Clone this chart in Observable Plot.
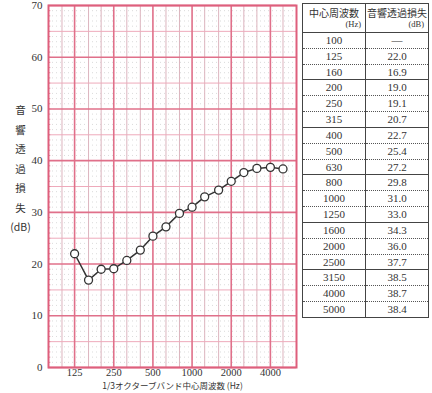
<!DOCTYPE html>
<html><head><meta charset="utf-8">
<script src="https://cdn.jsdelivr.net/npm/d3@7"></script>
<script src="https://cdn.jsdelivr.net/npm/@observablehq/plot@0.6"></script>
<style>
html,body{margin:0;padding:0;background:#fff;}
body{width:432px;height:393px;overflow:hidden;position:relative;}
#chart{position:absolute;left:0;top:0;}
#tbl{position:absolute;left:302px;top:3px;width:127px;height:315px;border-collapse:collapse;border:1.2px solid #444;table-layout:fixed;color:#333;}
#tbl td,#tbl th{padding:0;text-align:center;font-family:"Liberation Serif",serif;font-size:11px;font-weight:normal;line-height:1;}
#tbl th{height:28px;border-bottom:1.2px solid #444;font-family:"Noto Sans CJK JP",sans-serif;font-size:10px;vertical-align:middle;}
#tbl th .u{display:block;text-align:right;font-family:"Liberation Serif",serif;font-size:8.5px;padding-right:4px;margin-top:2px;}
#tbl .c1{border-right:1.2px solid #444;}
#tbl tr.dot td{border-bottom:1px dotted #555;}
#tbl tr.sol td{border-bottom:1.2px solid #444;}
</style></head><body>
<div id="chart"></div>
<table id="tbl"></table>
<script>
// Data
const freqs = [100,125,160,200,250,315,400,500,630,800,1000,1250,1600,2000,2500,3150,4000,5000];
const loss  = [null,22.0,16.9,19.0,19.1,20.7,22.7,25.4,27.2,29.8,31.0,33.0,34.3,36.0,37.7,38.5,38.7,38.4];
const lossText = ["—","22.0","16.9","19.0","19.1","20.7","22.7","25.4","27.2","29.8","31.0","33.0","34.3","36.0","37.7","38.5","38.7","38.4"];
const xTickLabels = [125,250,500,1000,2000,4000];
const yTickLabels = [0,10,20,30,40,50,60,70];
const yTitle = ["音","響","透","過","損","失","(dB)"];
const xTitle = "1/3オクターブバンド中心周波数 (Hz)";
const headFreq = ["中心周波数","(Hz)"];
const headLoss = ["音響透過損失","(dB)"];

const data = freqs.map((f,i)=>({f, v: loss[i]})).filter(d=>d.v!=null);
const fives = d3.range(5,70,10);
const ones = d3.range(1,70).filter(d=>d%5!==0);
const allInts = d3.range(1,70);
const thirdLines = freqs.filter(f=>!xTickLabels.includes(f));

const major = "#e0708a", minor = "#eeaabb", third = "#dcb4be";

const chart = Plot.plot({
  width: 302, height: 393,
  marginLeft: 48, marginRight: 6, marginTop: 5, marginBottom: 26,
  style: {fontFamily: "Liberation Serif, serif", fontSize: "11px", color: "#333", background: "white"},
  x: {type: "log", domain: [78.75, 6350]},
  y: {domain: [0,70]},
  marks: [
    Plot.ruleY(ones, {stroke: "#cccccc", strokeWidth: 0.7, strokeDasharray: "1,3"}),
    Plot.ruleX(thirdLines, {stroke: third, strokeWidth: 1}),
    Plot.ruleY(fives, {stroke: minor, strokeWidth: 1}),
    Plot.ruleX(xTickLabels, {stroke: major, strokeWidth: 1.6}),
    Plot.ruleY(yTickLabels, {stroke: major, strokeWidth: 1.6}),
    Plot.ruleY(allInts, {x1: 78.75, x2: 82, stroke: major, strokeWidth: 0.8}),
    Plot.frame({stroke: "#de5f7c", strokeWidth: 2}),
    Plot.line(data, {x: "f", y: "v", stroke: "#333", strokeWidth: 1.5}),
    Plot.dot(data, {x: "f", y: "v", r: 4, fill: "white", stroke: "#333", strokeWidth: 1.3}),
    Plot.axisX({ticks: xTickLabels, tickSize: 0, tickPadding: 1, tickFormat: d=>String(d), label: null, fill: "#333", fontSize: 10.5}),
    Plot.axisY({ticks: yTickLabels, tickSize: 0, tickPadding: 6, label: null, fill: "#333"}),
    Plot.text([yTitle.join("\n")], {frameAnchor: "left", dx: -28, dy: -20, lineHeight: 1.85, fontSize: 10.5, fontFamily: "Noto Sans CJK JP, sans-serif", fill: "#333", textAnchor: "middle"}),
    Plot.text([xTitle], {frameAnchor: "bottom", dy: 15, fontSize: 8.5, fontFamily: "Noto Sans CJK JP, sans-serif", fill: "#333", lineAnchor: "top"})
  ]
});
chart.style.overflow = "visible";
document.getElementById("chart").append(chart);

// Table
const tbl = d3.select("#tbl");
const hr = tbl.append("tr");
hr.append("th").attr("class","c1").html(`${headFreq[0]}<span class="u">${headFreq[1]}</span>`);
hr.append("th").html(`${headLoss[0]}<span class="u">${headLoss[1]}</span>`);
freqs.forEach((f,i)=>{
  const last = i===freqs.length-1;
  const tr = tbl.append("tr").attr("class", last ? "" : ((i%3===2) ? "sol" : "dot"));
  tr.append("td").attr("class","c1").text(f);
  tr.append("td").text(lossText[i]);
});
</script>
</body></html>
